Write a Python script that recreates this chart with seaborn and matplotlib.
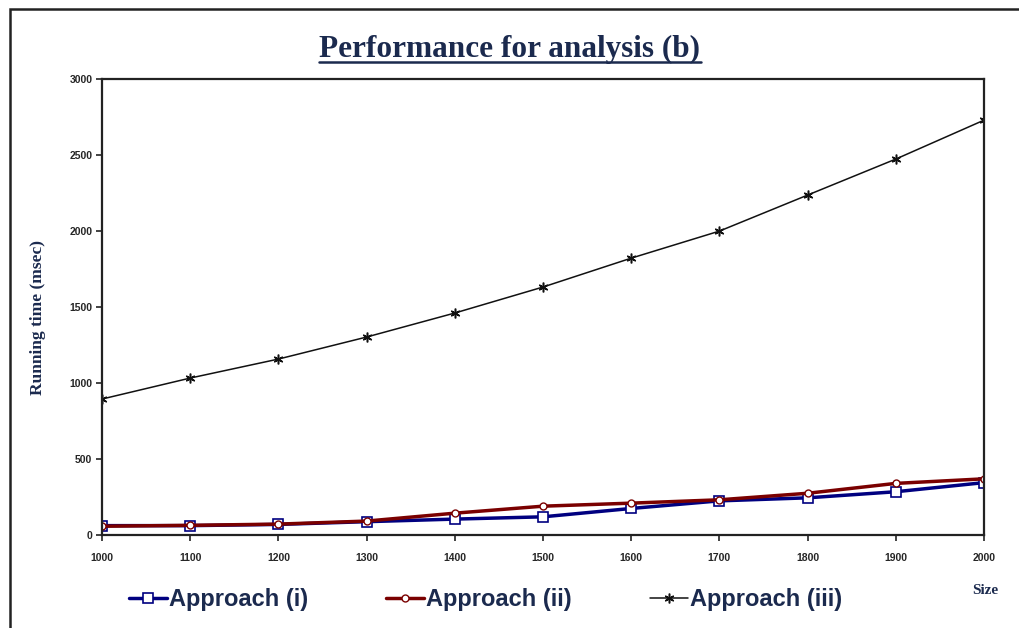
import matplotlib
matplotlib.use("Agg")
import matplotlib.pyplot as plt
import seaborn as sns
from matplotlib.lines import Line2D
from matplotlib.patches import Rectangle

# data
sizes = [1000, 1100, 1200, 1300, 1400, 1500, 1600, 1700, 1800, 1900, 2000]
approach_i = [62, 62, 70, 88, 105, 120, 175, 225, 245, 285, 345]
approach_ii = [58, 64, 72, 92, 144, 190, 210, 232, 275, 340, 370]
approach_iii = [895, 1033, 1158, 1303, 1461, 1632, 1822, 2000, 2237, 2474, 2730]
series_names = ["Approach (i)", "Approach (ii)", "Approach (iii)"]
y_ticks = [0, 500, 1000, 1500, 2000, 2500, 3000]

navy = "#1b2a4e"
serif = ["Liberation Serif", "DejaVu Serif"]
narrow = ["Liberation Sans Narrow", "Liberation Sans", "DejaVu Sans"]

sns.set_style("white")

fig = plt.figure(figsize=(10.2, 6.28), dpi=100)
ax = fig.add_axes([0.1, 0.148, 0.8647, 0.726])

sns.lineplot(x=sizes, y=approach_i, ax=ax, color="#000080", linewidth=2.5,
             marker="s", markersize=7, markerfacecolor="white",
             markeredgecolor="#000080", markeredgewidth=1.2, label=series_names[0])
sns.lineplot(x=sizes, y=approach_ii, ax=ax, color="#7a0000", linewidth=2.5,
             marker="o", markersize=5, markerfacecolor="white",
             markeredgecolor="#7a0000", markeredgewidth=1.0, label=series_names[1])
sns.lineplot(x=sizes, y=approach_iii, ax=ax, color="#111111", linewidth=1.1,
             marker=(6, 2, 0), markersize=7, markeredgecolor="#111111",
             markeredgewidth=1.1, label=series_names[2])

ax.set_xlim(1000, 2000)
ax.set_ylim(0, 3000)
ax.set_xticks(sizes)
ax.set_yticks(y_ticks)
ax.set_xlabel("")
ax.set_ylabel("")
for lab in ax.get_xticklabels() + ax.get_yticklabels():
    lab.set_fontfamily(narrow)
    lab.set_fontweight("bold")
    lab.set_fontsize(7.5)
ax.tick_params(axis="both", direction="out", length=4, width=1.2, color="#222222",
               bottom=True, left=True)
ax.tick_params(axis="x", pad=9)
ax.tick_params(axis="y", pad=3)
for sp in ax.spines.values():
    sp.set_visible(True)
    sp.set_color("#222222")
    sp.set_linewidth(1.6)

ax.get_legend().remove()

# title with underline
title = fig.text(0.5, 0.91, "Performance for analysis (b)", ha="center", va="baseline",
                 fontsize=22.5, fontweight="bold", color=navy, family=serif)
fig.canvas.draw()
bb = title.get_window_extent(fig.canvas.get_renderer())
tb = bb.transformed(fig.transFigure.inverted())
fig.add_artist(Line2D([tb.x0, tb.x1], [tb.y0 + 0.002, tb.y0 + 0.002],
                      transform=fig.transFigure, color=navy, linewidth=1.8))

fig.text(0.037, 0.495, "Running time (msec)", rotation=90, ha="center", va="center",
         fontsize=12.5, fontweight="bold", color=navy, family=serif)
fig.text(0.966, 0.06, "Size", ha="center", va="center",
         fontsize=11, fontweight="bold", color=navy, family=serif)

handles, labels = ax.get_lines()[:3], series_names
leg = fig.legend(handles, labels, loc="center", bbox_to_anchor=(0.476, 0.045), ncol=3,
                 frameon=False, handlelength=1.6, handletextpad=0.1, columnspacing=3.3,
                 prop={"family": narrow, "weight": "bold", "size": 17})
for t in leg.get_texts():
    t.set_color(navy)

# outer chart frame
fig.add_artist(Rectangle((10 / 1020, -0.05), 1.2, 1 - 9 / 628 + 0.05,
                         transform=fig.transFigure, fill=False,
                         edgecolor="#222222", linewidth=1.8))

fig.savefig("out.png", dpi=100)
